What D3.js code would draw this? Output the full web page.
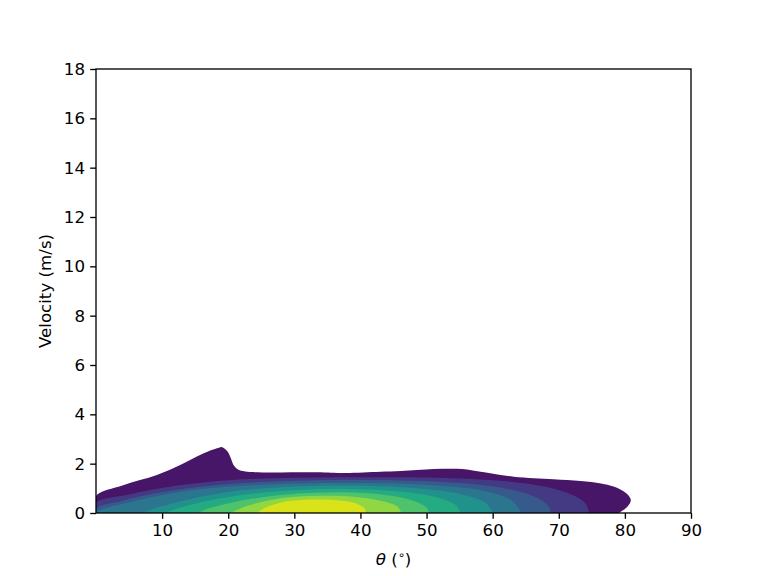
<!DOCTYPE html>
<html>
<head>
<meta charset="utf-8">
<script src="https://cdn.jsdelivr.net/npm/d3@7"></script>
<style>
  html, body { margin: 0; padding: 0; background: #fff; }
  svg { display: block; }
  text { font-family: "DejaVu Sans", sans-serif; }
</style>
</head>
<body>
<script>
// ---- data (theta in degrees, velocity in m/s) ----
const xTicks = [10, 20, 30, 40, 50, 60, 70, 80, 90];
const yTicks = [0, 2, 4, 6, 8, 10, 12, 14, 16, 18];
const xDomain = [0, 90];
const yDomain = [0, 18];

// filled KDE contour bands, outermost (lowest level) first
const band1 = [[0,0],[0,0.69],[4.1,1.13],[9.2,1.54],[13.2,2.01],[16.3,2.42],[18.3,2.62],[19.1,2.67],[19.9,2.49],[20.4,2.22],[20.8,1.95],[21.5,1.76],[22.6,1.68],[33.4,1.65],[37.7,1.62],[43,1.67],[46.1,1.70],[51.1,1.78],[55.4,1.78],[58.2,1.67],[63.2,1.47],[69.2,1.37],[73.3,1.30],[76.4,1.2],[78.3,1.07],[80.2,0.80],[80.9,0.53],[80.4,0.26],[79.1,0]];
const band2 = [[0,0],[0,0.41],[5,0.75],[12,1.1],[20,1.33],[30,1.43],[45,1.45],[55,1.4],[65,1.2],[71,0.85],[74,0.4],[74.6,0]];
const band3 = [[0,0],[0,0.19],[4,0.5],[10,0.85],[18,1.13],[28,1.29],[40,1.34],[52,1.27],[60,1.08],[66,0.7],[68.4,0.3],[68.8,0]];
const band4 = [[0,0],[0,0.05],[3,0.3],[8,0.62],[15,0.94],[25,1.15],[38,1.22],[50,1.15],[58,0.93],[62.8,0.52],[64.4,0]];
const band5 = [[7.1,0],[9,0.2],[14,0.55],[20,0.85],[28,1.04],[38,1.11],[48,1.01],[55,0.77],[59,0.4],[60,0]];
const band6 = [[10.5,0],[12.5,0.2],[17,0.5],[23,0.76],[30,0.92],[38,0.97],[46,0.87],[52,0.6],[54.5,0.3],[55.1,0]];
const band7 = [[15.4,0],[17,0.18],[21,0.45],[26,0.67],[32,0.81],[38,0.84],[44,0.72],[48,0.5],[50,0.22],[50.4,0]];
const band8 = [[20.4,0],[22,0.2],[25,0.45],[29,0.63],[34,0.70],[39,0.66],[43,0.5],[45.5,0.28],[46.2,0]];
const band9 = [[24.4,0],[25.5,0.2],[28,0.43],[31,0.53],[36,0.53],[39,0.42],[40.5,0.22],[40.9,0]];
const bands = [band1, band2, band3, band4, band5, band6, band7, band8, band9];

// ---- layout ----
const W = 768, H = 576;
const m = { left: 96, right: 768 - 691, top: 69, bottom: 576 - 513 };
const iw = W - m.left - m.right, ih = H - m.top - m.bottom;
const FS = 16.67;

const svg = d3.select("body").append("svg").attr("width", W).attr("height", H);
const g = svg.append("g").attr("transform", `translate(${m.left},${m.top})`);

const x = d3.scaleLinear().domain(xDomain).range([0, iw]);
const y = d3.scaleLinear().domain(yDomain).range([ih, 0]);

svg.append("defs").append("clipPath").attr("id", "clip")
  .append("rect").attr("x", 0).attr("y", 0).attr("width", iw).attr("height", ih);

const line = d3.line().x(d => x(d[0])).y(d => y(d[1])).curve(d3.curveCatmullRom.alpha(0.5));
const n = bands.length;
const pathFor = pts => line(pts) + "Z";

g.append("g").attr("clip-path", "url(#clip)")
  .selectAll("path").data(bands).join("path")
  .attr("d", pathFor)
  .attr("fill", (d, i) => d3.interpolateViridis((i + 0.5) / n))
  .attr("stroke", "none");

// axes
const tickLen = 5.83;
const xAxis = d3.axisBottom(x).tickValues(xTicks).tickSize(tickLen).tickPadding(5.2).tickSizeOuter(0);
const yAxis = d3.axisLeft(y).tickValues(yTicks).tickSize(tickLen).tickPadding(5.2).tickSizeOuter(0);

const gx = g.append("g").attr("transform", `translate(0,${ih})`).call(xAxis);
const gy = g.append("g").call(yAxis);
[gx, gy].forEach(a => {
  a.select(".domain").remove();
  a.selectAll("line").attr("stroke", "#000").attr("stroke-width", 1.33);
  a.selectAll("text").attr("font-size", FS).attr("fill", "#000").attr("font-family", "DejaVu Sans, sans-serif");
});

// frame
g.append("rect").attr("x", 0).attr("y", 0).attr("width", iw).attr("height", ih)
  .attr("fill", "none").attr("stroke", "#000").attr("stroke-width", 1.33);

// axis labels
const xl = svg.append("text")
  .attr("x", m.left + iw / 2).attr("y", 565)
  .attr("text-anchor", "middle").attr("font-size", FS).attr("fill", "#000");
xl.append("tspan").attr("font-style", "italic").text("θ");
xl.append("tspan").text(" (");
xl.append("tspan").attr("font-size", 11.5).attr("dy", -6).text("∘");
xl.append("tspan").attr("dy", 6).text(")");

svg.append("text")
  .attr("transform", `translate(51,${m.top + ih / 2}) rotate(-90)`)
  .attr("text-anchor", "middle").attr("font-size", FS).attr("fill", "#000")
  .text("Velocity (m/s)");
</script>
</body>
</html>
